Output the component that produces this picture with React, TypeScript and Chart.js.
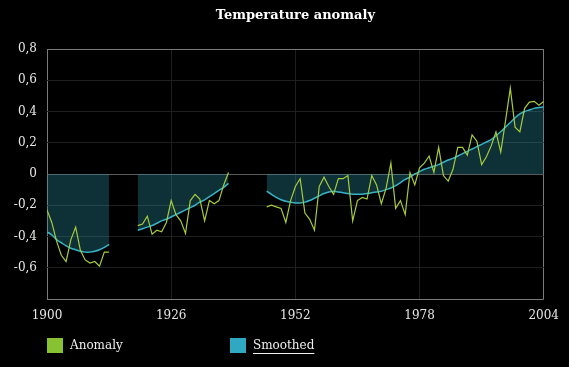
import React, { useEffect, useRef } from "react";
import { Chart, registerables } from "chart.js";

Chart.register(...registerables);

const TITLE = "Temperature anomaly";
const SERIES_NAMES = ["Anomaly", "Smoothed"];
const X_TICKS = [1900, 1926, 1952, 1978, 2004];
const Y_TICKS = [-0.8, -0.6, -0.4, -0.2, 0, 0.2, 0.4, 0.6, 0.8];

const SEG1_START = 1900;
const SEG2_START = 1919;
const SEG3_START = 1946;

const anomaly1 = [-0.23, -0.31, -0.43, -0.52, -0.56, -0.42, -0.34, -0.49, -0.55, -0.57, -0.56, -0.59, -0.5, -0.5];
const anomaly2 = [-0.33, -0.32, -0.27, -0.385, -0.36, -0.37, -0.31, -0.17, -0.26, -0.3, -0.38, -0.17, -0.13, -0.16, -0.3, -0.17, -0.19, -0.17, -0.07, 0.01];
const anomaly3 = [
  -0.21, -0.2, -0.21, -0.22,
  -0.31, -0.17, -0.08, -0.03, -0.25, -0.29, -0.36, -0.08, -0.02, -0.08,
  -0.13, -0.03, -0.03, -0.01, -0.3, -0.17, -0.15, -0.16, -0.01, -0.07,
  -0.19, -0.09, 0.07, -0.22, -0.17, -0.26, 0.01, -0.07, 0.04, 0.07,
  0.115, 0.01, 0.17, -0.01, -0.045, 0.03, 0.17, 0.17, 0.12, 0.25,
  0.21, 0.06, 0.11, 0.18, 0.27, 0.14, 0.34, 0.55, 0.3, 0.27,
  0.42, 0.46, 0.465, 0.44, 0.465,
];

const smoothed1 = [-0.37, -0.39, -0.42, -0.44, -0.46, -0.475, -0.485, -0.495, -0.5, -0.5, -0.495, -0.485, -0.47, -0.45];
const smoothed2 = [-0.36, -0.35, -0.34, -0.33, -0.315, -0.3, -0.29, -0.275, -0.26, -0.245, -0.23, -0.215, -0.2, -0.18, -0.165, -0.145, -0.125, -0.105, -0.085, -0.06];
const smoothed3 = [
  -0.11, -0.13, -0.15, -0.165,
  -0.175, -0.18, -0.185, -0.185, -0.18, -0.17, -0.155, -0.14, -0.125, -0.115,
  -0.11, -0.115, -0.12, -0.125, -0.13, -0.13, -0.13, -0.125, -0.12, -0.115,
  -0.11, -0.1, -0.09, -0.075, -0.055, -0.035, -0.02, 0.0, 0.015, 0.03,
  0.04, 0.05, 0.06, 0.075, 0.09, 0.1, 0.115, 0.13, 0.145, 0.16,
  0.175, 0.19, 0.205, 0.22, 0.245, 0.27, 0.3, 0.33, 0.36, 0.385,
  0.4, 0.41, 0.42, 0.425, 0.43,
];

const COLORS = {
  anomalyLine: "#a7cb3c",
  anomalyKey: "#86c232",
  smoothLine: "#38b2c8",
  smoothKey: "#2fa9c1",
  smoothFill: "rgba(45,150,170,0.32)",
};

type Pt = { x: number; y: number | null };

function buildSeries(segments: [number, number[]][]): Pt[] {
  const out: Pt[] = [];
  segments.forEach(([start, vals], si) => {
    if (si > 0) out.push({ x: start - 0.5, y: null });
    vals.forEach((v, i) => out.push({ x: start + i, y: v }));
  });
  return out;
}

function fmtY(v: number): string {
  const r = Math.round(v * 10) / 10;
  if (r <= -0.8) return "";
  if (r === 0) return "0";
  return r.toFixed(1).replace(".", ",");
}

const overlayPlugin = {
  id: "overlay",
  afterDraw(chart: any) {
    const ctx = chart.ctx as CanvasRenderingContext2D;
    const area = chart.chartArea;
    ctx.save();
    // title
    ctx.fillStyle = "#ffffff";
    ctx.font = "bold 13px 'DejaVu Serif'";
    ctx.textAlign = "center";
    ctx.textBaseline = "middle";
    ctx.fillText(TITLE, (area.left + area.right) / 2, 16);
    // legend
    ctx.font = "12px 'DejaVu Serif'";
    ctx.textAlign = "left";
    const items = [
      { x: 47, color: COLORS.anomalyKey, text: SERIES_NAMES[0], underline: false },
      { x: 230, color: COLORS.smoothKey, text: SERIES_NAMES[1], underline: true },
    ];
    items.forEach((it) => {
      ctx.fillStyle = it.color;
      ctx.fillRect(it.x, 338, 16, 15);
      ctx.fillStyle = "#f0f0f0";
      const tx = it.x + 23;
      ctx.fillText(it.text, tx, 346);
      if (it.underline) {
        const w = ctx.measureText(it.text).width;
        ctx.fillRect(tx, 353, w, 1);
      }
    });
    ctx.restore();
  },
};

export default function App() {
  const ref = useRef<HTMLCanvasElement | null>(null);
  useEffect(() => {
    document.body.style.margin = "0";
    document.body.style.background = "#000";
    const canvas = ref.current!;
    const chart = new Chart(canvas, {
      type: "line",
      data: {
        datasets: [
          {
            label: SERIES_NAMES[0],
            data: buildSeries([
              [SEG1_START, anomaly1],
              [SEG2_START, anomaly2],
              [SEG3_START, anomaly3],
            ]) as any,
            borderColor: COLORS.anomalyLine,
            borderWidth: 1.2,
            pointRadius: 0,
            fill: false,
            tension: 0,
            spanGaps: false,
          },
          {
            label: SERIES_NAMES[1],
            data: buildSeries([
              [SEG1_START, smoothed1],
              [SEG2_START, smoothed2],
              [SEG3_START, smoothed3],
            ]) as any,
            borderColor: COLORS.smoothLine,
            backgroundColor: COLORS.smoothFill,
            borderWidth: 1.5,
            pointRadius: 0,
            fill: "origin",
            tension: 0.3,
            spanGaps: false,
          },
        ],
      },
      options: {
        responsive: false,
        animation: false,
        devicePixelRatio: 1,
        events: [],
        layout: { padding: { top: 49, right: 21, bottom: 38, left: 0 } },
        plugins: {
          legend: { display: false },
          title: { display: false },
          tooltip: { enabled: false },
        },
        scales: {
          x: {
            type: "linear",
            min: X_TICKS[0],
            max: X_TICKS[X_TICKS.length - 1],
            afterFit: (s: any) => {
              s.height = 30;
            },
            afterBuildTicks: (s: any) => {
              s.ticks = X_TICKS.map((v) => ({ value: v }));
            },
            ticks: {
              color: "#e6e6e6",
              font: { family: "'DejaVu Serif'", size: 12 },
              padding: 10,
              maxRotation: 0,
              autoSkip: false,
              callback: (v: any) => String(v),
            },
            grid: {
              drawTicks: false,
              color: (c: any) =>
                c.tick && (c.tick.value === X_TICKS[0] || c.tick.value === X_TICKS[X_TICKS.length - 1])
                  ? "#7a7a7a"
                  : "#1f1f1f",
            },
            border: { display: false },
          },
          y: {
            min: Y_TICKS[0],
            max: Y_TICKS[Y_TICKS.length - 1],
            afterFit: (s: any) => {
              s.width = 47;
            },
            afterBuildTicks: (s: any) => {
              s.ticks = Y_TICKS.map((v) => ({ value: v }));
            },
            ticks: {
              color: "#e6e6e6",
              font: { family: "'DejaVu Serif'", size: 12 },
              padding: 10,
              autoSkip: false,
              callback: (v: any) => fmtY(Number(v)),
            },
            grid: {
              drawTicks: false,
              color: (c: any) => {
                const v = c.tick ? Math.round(c.tick.value * 10) / 10 : NaN;
                if (v === 0.8 || v === -0.8) return "#7a7a7a";
                if (v === 0) return "#5a5a5a";
                return "#1f1f1f";
              },
            },
            border: { display: false },
          },
        },
      },
      plugins: [overlayPlugin],
    } as any);
    return () => chart.destroy();
  }, []);
  return (
    <div style={{ width: 569, height: 367, background: "#000" }}>
      <canvas ref={ref} width={569} height={367} style={{ display: "block" }} />
    </div>
  );
}
